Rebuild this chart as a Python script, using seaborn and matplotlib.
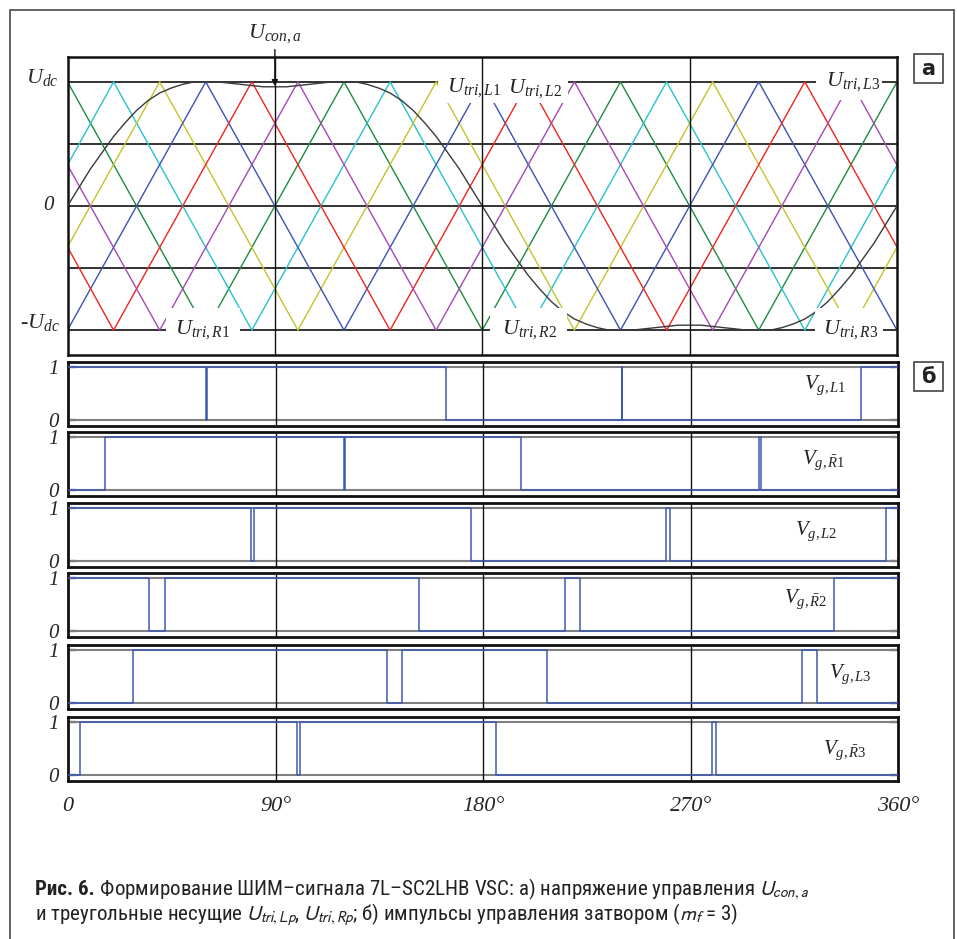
import numpy as np
import matplotlib
matplotlib.use("Agg")
import matplotlib.pyplot as plt
import seaborn as sns
from matplotlib import font_manager
from matplotlib.patches import Rectangle

W, H = 957, 939

# --- panel a: six triangular carriers (vertex angles / levels)
tri_green_deg = [0, 60, 120, 180, 240, 300, 360]
tri_green_val = [1, -1, 1, -1, 1, -1, 1]
tri_cyan_deg = [0, 20, 80, 140, 200, 260, 320, 360]
tri_cyan_val = [0.33, 1, -1, 1, -1, 1, -1, 0.33]
tri_yellow_deg = [0, 40, 100, 160, 220, 280, 340, 360]
tri_yellow_val = [-0.33, 1, -1, 1, -1, 1, -1, -0.33]
tri_blue_deg = [0, 60, 120, 180, 240, 300, 360]
tri_blue_val = [-1, 1, -1, 1, -1, 1, -1]
tri_red_deg = [0, 20, 80, 140, 200, 260, 320, 360]
tri_red_val = [-0.33, -1, 1, -1, 1, -1, 1, -0.33]
tri_purple_deg = [0, 40, 100, 160, 220, 280, 340, 360]
tri_purple_val = [0.33, -1, 1, -1, 1, -1, 1, 0.33]

# control voltage U_con,a, sampled every 5 degrees
ucon_deg = np.arange(0, 361, 5)
ucon_val = [0.00, 0.15, 0.30, 0.43, 0.56, 0.67, 0.77, 0.85, 0.91, 0.95, 0.98, 1.00,
            1.00, 1.00, 0.99, 0.98, 0.97, 0.96, 0.96, 0.96, 0.97, 0.98, 0.99, 1.00,
            1.00, 1.00, 0.98, 0.95, 0.91, 0.85, 0.77, 0.67, 0.56, 0.43, 0.30, 0.15,
            0.00,
            -0.15, -0.30, -0.43, -0.56, -0.67, -0.77, -0.85, -0.91, -0.95, -0.98, -1.00,
            -1.00, -1.00, -0.99, -0.98, -0.97, -0.96, -0.96, -0.96, -0.97, -0.98, -0.99,
            -1.00, -1.00, -1.00, -0.98, -0.95, -0.91, -0.85, -0.77, -0.67, -0.56, -0.43,
            -0.30, -0.15, 0.00]

# --- panel б: gate signals (switching angles and levels, steps-post)
gate_L1_deg = [0, 60.0, 60.4, 164.0, 240.0, 240.4, 343.8, 360]
gate_L1_lvl = [1, 0, 1, 0, 1, 0, 1, 1]
gate_R1_deg = [0, 16.2, 119.6, 120.2, 196.3, 299.8, 300.3, 360]
gate_R1_lvl = [0, 1, 0, 1, 0, 1, 0, 0]
gate_L2_deg = [0, 79.4, 80.8, 174.7, 259.2, 260.9, 354.7, 360]
gate_L2_lvl = [1, 0, 1, 0, 1, 0, 1, 1]
gate_R2_deg = [0, 35.2, 41.9, 152.3, 215.5, 222.0, 332.3, 360]
gate_R2_lvl = [1, 0, 1, 0, 1, 0, 1, 1]
gate_L3_deg = [0, 28.0, 138.1, 144.7, 207.9, 318.2, 324.9, 360]
gate_L3_lvl = [0, 1, 0, 1, 0, 1, 0, 0]
gate_R3_deg = [0, 5.3, 99.2, 100.8, 185.4, 279.3, 280.9, 360]
gate_R3_lvl = [0, 1, 0, 1, 0, 1, 0, 0]

gate_labels = [r"$V_{g,L\mathrm{1}}$", r"$V_{g,\bar{R}\mathrm{1}}$", r"$V_{g,L\mathrm{2}}$",
               r"$V_{g,\bar{R}\mathrm{2}}$", r"$V_{g,L\mathrm{3}}$", r"$V_{g,\bar{R}\mathrm{3}}$"]
x_tick_labels = ["0", "90°", "180°", "270°", "360°"]

sns.set_style("white")
plt.rcParams["font.family"] = ["Liberation Serif", "DejaVu Serif"]
plt.rcParams["mathtext.fontset"] = "custom"
plt.rcParams["mathtext.it"] = "Liberation Serif:italic"
plt.rcParams["mathtext.rm"] = "Liberation Serif"
plt.rcParams["mathtext.bf"] = "Liberation Serif:bold"

fig = plt.figure(figsize=(W / 100, H / 100), dpi=100)


def fig_box(left, top, right, bottom):
    return [left / W, 1 - bottom / H, (right - left) / W, (bottom - top) / H]


serif_it = dict(family="Liberation Serif", style="italic")

# ---------------- panel a
ax = fig.add_axes(fig_box(67.5, 57, 897, 355))
carriers = [
    (tri_green_deg, tri_green_val, "#1f8a3f"),
    (tri_cyan_deg, tri_cyan_val, "#27c3cb"),
    (tri_yellow_deg, tri_yellow_val, "#c6c22c"),
    (tri_blue_deg, tri_blue_val, "#3b52b5"),
    (tri_red_deg, tri_red_val, "#f0231f"),
    (tri_purple_deg, tri_purple_val, "#a548b5"),
]
for h in [-1, -0.5, 0, 0.5, 1]:
    ax.axhline(h, color="#333333", lw=1.4, zorder=1)
for deg, val, col in carriers:
    sns.lineplot(x=deg, y=val, color=col, lw=1.0, estimator=None, sort=False,
                 legend=False, ax=ax, zorder=2)
sns.lineplot(x=ucon_deg, y=ucon_val, color="#3a3a3a", lw=1.0, estimator=None,
             sort=False, legend=False, ax=ax, zorder=3)

# white masks behind carrier labels
masks = [(42.8, 74.9, -1.16, -0.82), (160.8, 217.2, 0.83, 1.15),
         (183.4, 216.8, -1.16, -0.82), (324.9, 353.5, 0.85, 1.15),
         (324.4, 354.0, -1.16, -0.82)]
for x0, x1, y0, y1 in masks:
    ax.add_patch(Rectangle((x0, y0), x1 - x0, y1 - y0, facecolor="white",
                           edgecolor="none", zorder=4))
for v in [90, 180, 270]:
    ax.axvline(v, color="#111111", lw=1.0, zorder=5)

carrier_labels = [(r"$U_{tri,R1}$", 46.7, -1.03), (r"$U_{tri,L1}$", 164.7, 0.92),
                  (r"$U_{tri,L2}$", 191.2, 0.91), (r"$U_{tri,R2}$", 188.4, -1.03),
                  (r"$U_{tri,L3}$", 329.2, 0.97), (r"$U_{tri,R3}$", 328.0, -1.03)]
for txt, xd, yd in carrier_labels:
    ax.text(xd, yd, txt, fontsize=16, ha="left", va="baseline", color="#222222",
            zorder=6)

ax.set_xlim(0, 360)
ax.set_ylim(-1.2, 1.2)
ax.set_xticks([])
ax.set_yticks([])
for s in ax.spines.values():
    s.set_linewidth(1.8)
    s.set_color("#111111")
ax.text(-4.0, 0.99, r"$U_{dc}$", fontsize=16, ha="right", va="baseline")
ax.text(-6.0, 0.0, "0", fontsize=15, ha="right", va="center", **serif_it)
ax.text(-3.3, -0.985, r"-$U_{dc}$", fontsize=16, ha="right", va="baseline", **serif_it)

ax.annotate("", xy=(90, 0.965), xytext=(90, 1.26), annotation_clip=False,
            arrowprops=dict(arrowstyle="-|>", color="#111111", lw=1.0,
                            mutation_scale=9, shrinkA=0, shrinkB=0))
ax.text(90, 1.355, r"$U_{con,a}$", fontsize=16, ha="center", va="baseline",
        clip_on=False)

# ---------------- panel б
gates = [(gate_L1_deg, gate_L1_lvl), (gate_R1_deg, gate_R1_lvl),
         (gate_L2_deg, gate_L2_lvl), (gate_R2_deg, gate_R2_lvl),
         (gate_L3_deg, gate_L3_lvl), (gate_R3_deg, gate_R3_lvl)]
tops = [362, 432, 502.7, 572.7, 645, 716.7]
label_pos = [(319.0, 0.585), (318.2, 0.50), (315.3, 0.49),
             (310.6, 0.53), (330.1, 0.47), (327.2, 0.40)]

for i, ((deg, lvl), top) in enumerate(zip(gates, tops)):
    g = fig.add_axes(fig_box(68, top, 898.3, top + 64))
    for h in [0, 1]:
        g.axhline(h, color="#808080", lw=1.5, zorder=1)
    for v in [90, 180, 270]:
        g.axvline(v, color="#111111", lw=1.0, zorder=1)
    sns.lineplot(x=deg, y=lvl, color="#3d58b4", lw=1.1, drawstyle="steps-post",
                 estimator=None, sort=False, legend=False, ax=g, zorder=3)
    g.set_xlim(0, 360)
    g.set_ylim(-0.11, 1.10)
    g.set_yticks([0, 1])
    g.set_yticklabels(["0", "1"], fontsize=15, **serif_it)
    g.tick_params(axis="y", direction="in", length=6, width=1.6, color="#222222",
                  left=True, right=True, pad=7)
    for s in g.spines.values():
        s.set_linewidth(2.0)
        s.set_color("#111111")
    g.set_xlabel("")
    g.set_ylabel("")
    lx, ly = label_pos[i]
    g.text(lx, ly, gate_labels[i], fontsize=15, ha="left", va="baseline",
           color="#222222", zorder=5)
    if i < 5:
        g.set_xticks([])
    else:
        g.set_xticks([0, 90, 180, 270, 360])
        g.set_xticklabels(x_tick_labels, fontsize=16, **serif_it)
        g.tick_params(axis="x", length=0, pad=12)

# ---------------- frame and panel letters
fig.patches.append(Rectangle((10 / W, -0.02), 944 / W, 1 - 10 / H + 0.02,
                             transform=fig.transFigure, fill=False,
                             edgecolor="#555555", lw=1.3))
for letter, ytop in [("а", 54), ("б", 362)]:
    fig.patches.append(Rectangle((914 / W, 1 - (ytop + 29) / H), 29 / W, 29 / H,
                                 transform=fig.transFigure, facecolor="white",
                                 edgecolor="#444444", lw=1.2))
    fig.text(928.5 / W, 1 - (ytop + 15) / H, letter, ha="center", va="center",
             fontsize=15, fontweight="bold", family="DejaVu Sans", color="#222222")

# ---------------- caption
names = {f.name for f in font_manager.fontManager.ttflist}
cap_font = "DejaVu Sans"
for cand in ["Liberation Sans Narrow", "Roboto Condensed", "Open Sans Condensed",
             "Roboto", "Liberation Sans"]:
    if cand in names:
        cap_font = cand
        break

line1_bold = "Рис. 6."
line1_rest = (" Формирование ШИМ–сигнала 7L–SC2LHB VSC: а) напряжение управления "
              r"$U_{con,a}$")
line2 = (r"и треугольные несущие $U_{tri,Lp}$, $U_{tri,Rp}$; б) импульсы управления "
         r"затвором ($m_f$ = 3)")

size = 14
tb = fig.text(35 / W, 1 - 895 / H, line1_bold, fontsize=size, fontweight="bold",
              family=cap_font, color="#222222", va="baseline")
tr = fig.text(0, 1 - 895 / H, line1_rest, fontsize=size, family=cap_font,
              color="#222222", va="baseline", math_fontfamily="stixsans")
t2 = fig.text(35 / W, 1 - 920 / H, line2, fontsize=size, family=cap_font,
              color="#222222", va="baseline", math_fontfamily="stixsans")
r = fig.canvas.get_renderer()
w1 = tb.get_window_extent(r).width + tr.get_window_extent(r).width
size = min(15.5, size * 777 / w1)
for t in (tb, tr, t2):
    t.set_fontsize(size)
tr.set_x((35 + tb.get_window_extent(r).width) / W)

fig.savefig("out.png", dpi=100)
